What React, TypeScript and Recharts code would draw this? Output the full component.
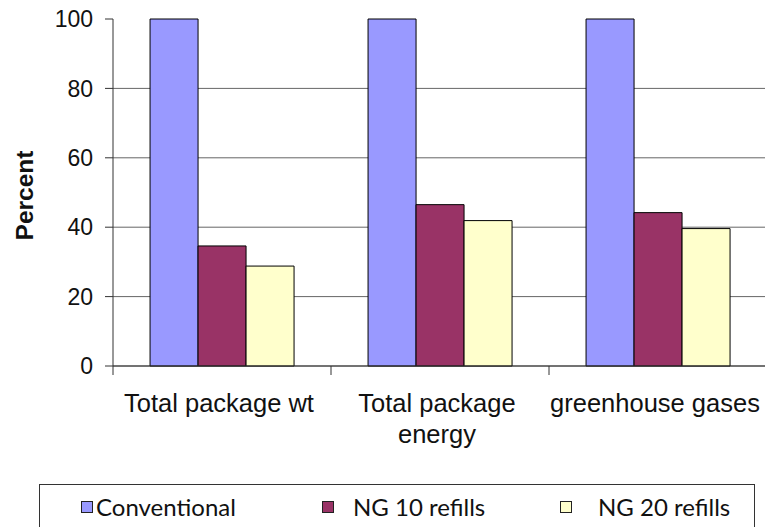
import React from 'react';
import { BarChart, Bar, XAxis, YAxis, CartesianGrid, Legend } from 'recharts';

const categories = ['Total package wt', 'Total package energy', 'greenhouse gases'];
const conventional = [100, 100, 100];
const ng10Refills = [34.6, 46.5, 44.2];
const ng20Refills = [28.8, 41.9, 39.6];
const yTicks = [0, 20, 40, 60, 80, 100];
const seriesNames = ['Conventional', 'NG 10 refills', 'NG 20 refills'];

const data = categories.map((c, i) => ({
  category: c,
  conventional: conventional[i],
  ng10: ng10Refills[i],
  ng20: ng20Refills[i],
}));

const FONT = '"Liberation Sans", Arial, sans-serif';
const AXIS_COLOR = '#333';
const TICK_FONT_SIZE = 25.5;

const LEGEND_ITEM_LEFT = [41, 282, 520];
const LEGEND_TEXT_GAP = [3, 19, 26];

let measureCtx: CanvasRenderingContext2D | null = null;
function measure(text: string): number {
  if (!measureCtx && typeof document !== 'undefined') {
    measureCtx = document.createElement('canvas').getContext('2d');
  }
  if (!measureCtx) return text.length * TICK_FONT_SIZE * 0.5;
  measureCtx.font = `${TICK_FONT_SIZE}px ${FONT}`;
  return measureCtx.measureText(text).width;
}

function wrapWords(text: string, maxWidth: number): string[] {
  const words = text.split(' ');
  const lines: string[] = [];
  let current = '';
  words.forEach((w) => {
    const candidate = current ? `${current} ${w}` : w;
    if (current && measure(candidate) > maxWidth) {
      lines.push(current);
      current = w;
    } else {
      current = candidate;
    }
  });
  if (current) lines.push(current);
  return lines;
}

const CategoryTick = (props: any) => {
  const { x, y, payload } = props;
  const half = payload && typeof payload.offset === 'number' && payload.offset > 0 ? payload.offset : 109;
  const lines = wrapWords(String(payload.value), 2 * half - 4);
  return (
    <g>
      <line x1={x - half} y1={y} x2={x - half} y2={y + 9} stroke={AXIS_COLOR} strokeWidth={1} />
      <text x={x - 3} y={y + 46} textAnchor="middle" fontSize={TICK_FONT_SIZE} fontFamily={FONT} fill="#111">
        {lines.map((ln, i) => (
          <tspan key={i} x={x - 3} dy={i === 0 ? 0 : 31}>
            {ln}
          </tspan>
        ))}
      </text>
    </g>
  );
};

const PercentLabel = (props: any) => {
  const vb = props.viewBox || { x: 0, y: 19, width: 113, height: 347 };
  const cx = 33;
  const cy = vb.y + vb.height / 2 + 3;
  return (
    <text
      x={cx}
      y={cy}
      textAnchor="middle"
      transform={`rotate(-90, ${cx}, ${cy})`}
      fontFamily={FONT}
      fontWeight="bold"
      fontSize={24.5}
      fill="#111"
    >
      Percent
    </text>
  );
};

const LegendContent = (props: any) => {
  const payload = props.payload || [];
  return (
    <div
      style={{
        boxSizing: 'border-box',
        width: '100%',
        height: '100%',
        border: '1px solid #333',
        background: '#fff',
        position: 'relative',
        fontFamily: 'Lato, "Liberation Sans Narrow", sans-serif',
        fontSize: 24,
        color: '#111',
      }}
    >
      {payload.map((entry: any, i: number) => (
        <div
          key={entry.value}
          style={{
            position: 'absolute',
            left: LEGEND_ITEM_LEFT[i],
            top: 2,
            height: 40,
            display: 'flex',
            alignItems: 'center',
            whiteSpace: 'nowrap',
          }}
        >
          <span
            style={{
              display: 'inline-block',
              width: 12,
              height: 12,
              background: entry.color,
              border: '1px solid #222',
              boxSizing: 'border-box',
            }}
          />
          <span style={{ marginLeft: LEGEND_TEXT_GAP[i], lineHeight: '24px' }}>{entry.value}</span>
        </div>
      ))}
    </div>
  );
};

export default function App() {
  return (
    <div style={{ position: 'absolute', left: 0, top: 0, width: 765, height: 527, overflow: 'hidden', background: '#fff' }}>
      <BarChart
        width={770}
        height={527}
        data={data}
        margin={{ top: 19, right: 3, left: 0, bottom: 0 }}
        barCategoryGap="17%"
        barGap={0}
      >
        <CartesianGrid vertical={false} stroke="#666" horizontalValues={yTicks.filter((t) => t < 100)} />
        <XAxis
          dataKey="category"
          height={161}
          tickLine={false}
          tickSize={0}
          tickMargin={0}
          stroke={AXIS_COLOR}
          tick={<CategoryTick />}
          interval={0}
        />
        <YAxis
          width={113}
          domain={[0, 100]}
          ticks={yTicks}
          tickSize={8}
          tickMargin={12}
          stroke={AXIS_COLOR}
          tick={{ fontSize: 23, fontFamily: FONT, fill: '#111' }}
          label={{ content: <PercentLabel /> }}
        />
        <Legend
          verticalAlign="middle"
          align="center"
          layout="horizontal"
          wrapperStyle={{ left: 39, top: 484, width: 716, height: 60 }}
          content={<LegendContent />}
        />
        <Bar dataKey="conventional" name={seriesNames[0]} fill="#9999FF" stroke="#000" strokeWidth={1} isAnimationActive={false} />
        <Bar dataKey="ng10" name={seriesNames[1]} fill="#993366" stroke="#000" strokeWidth={1} isAnimationActive={false} />
        <Bar dataKey="ng20" name={seriesNames[2]} fill="#FFFFCC" stroke="#000" strokeWidth={1} isAnimationActive={false} />
      </BarChart>
    </div>
  );
}
